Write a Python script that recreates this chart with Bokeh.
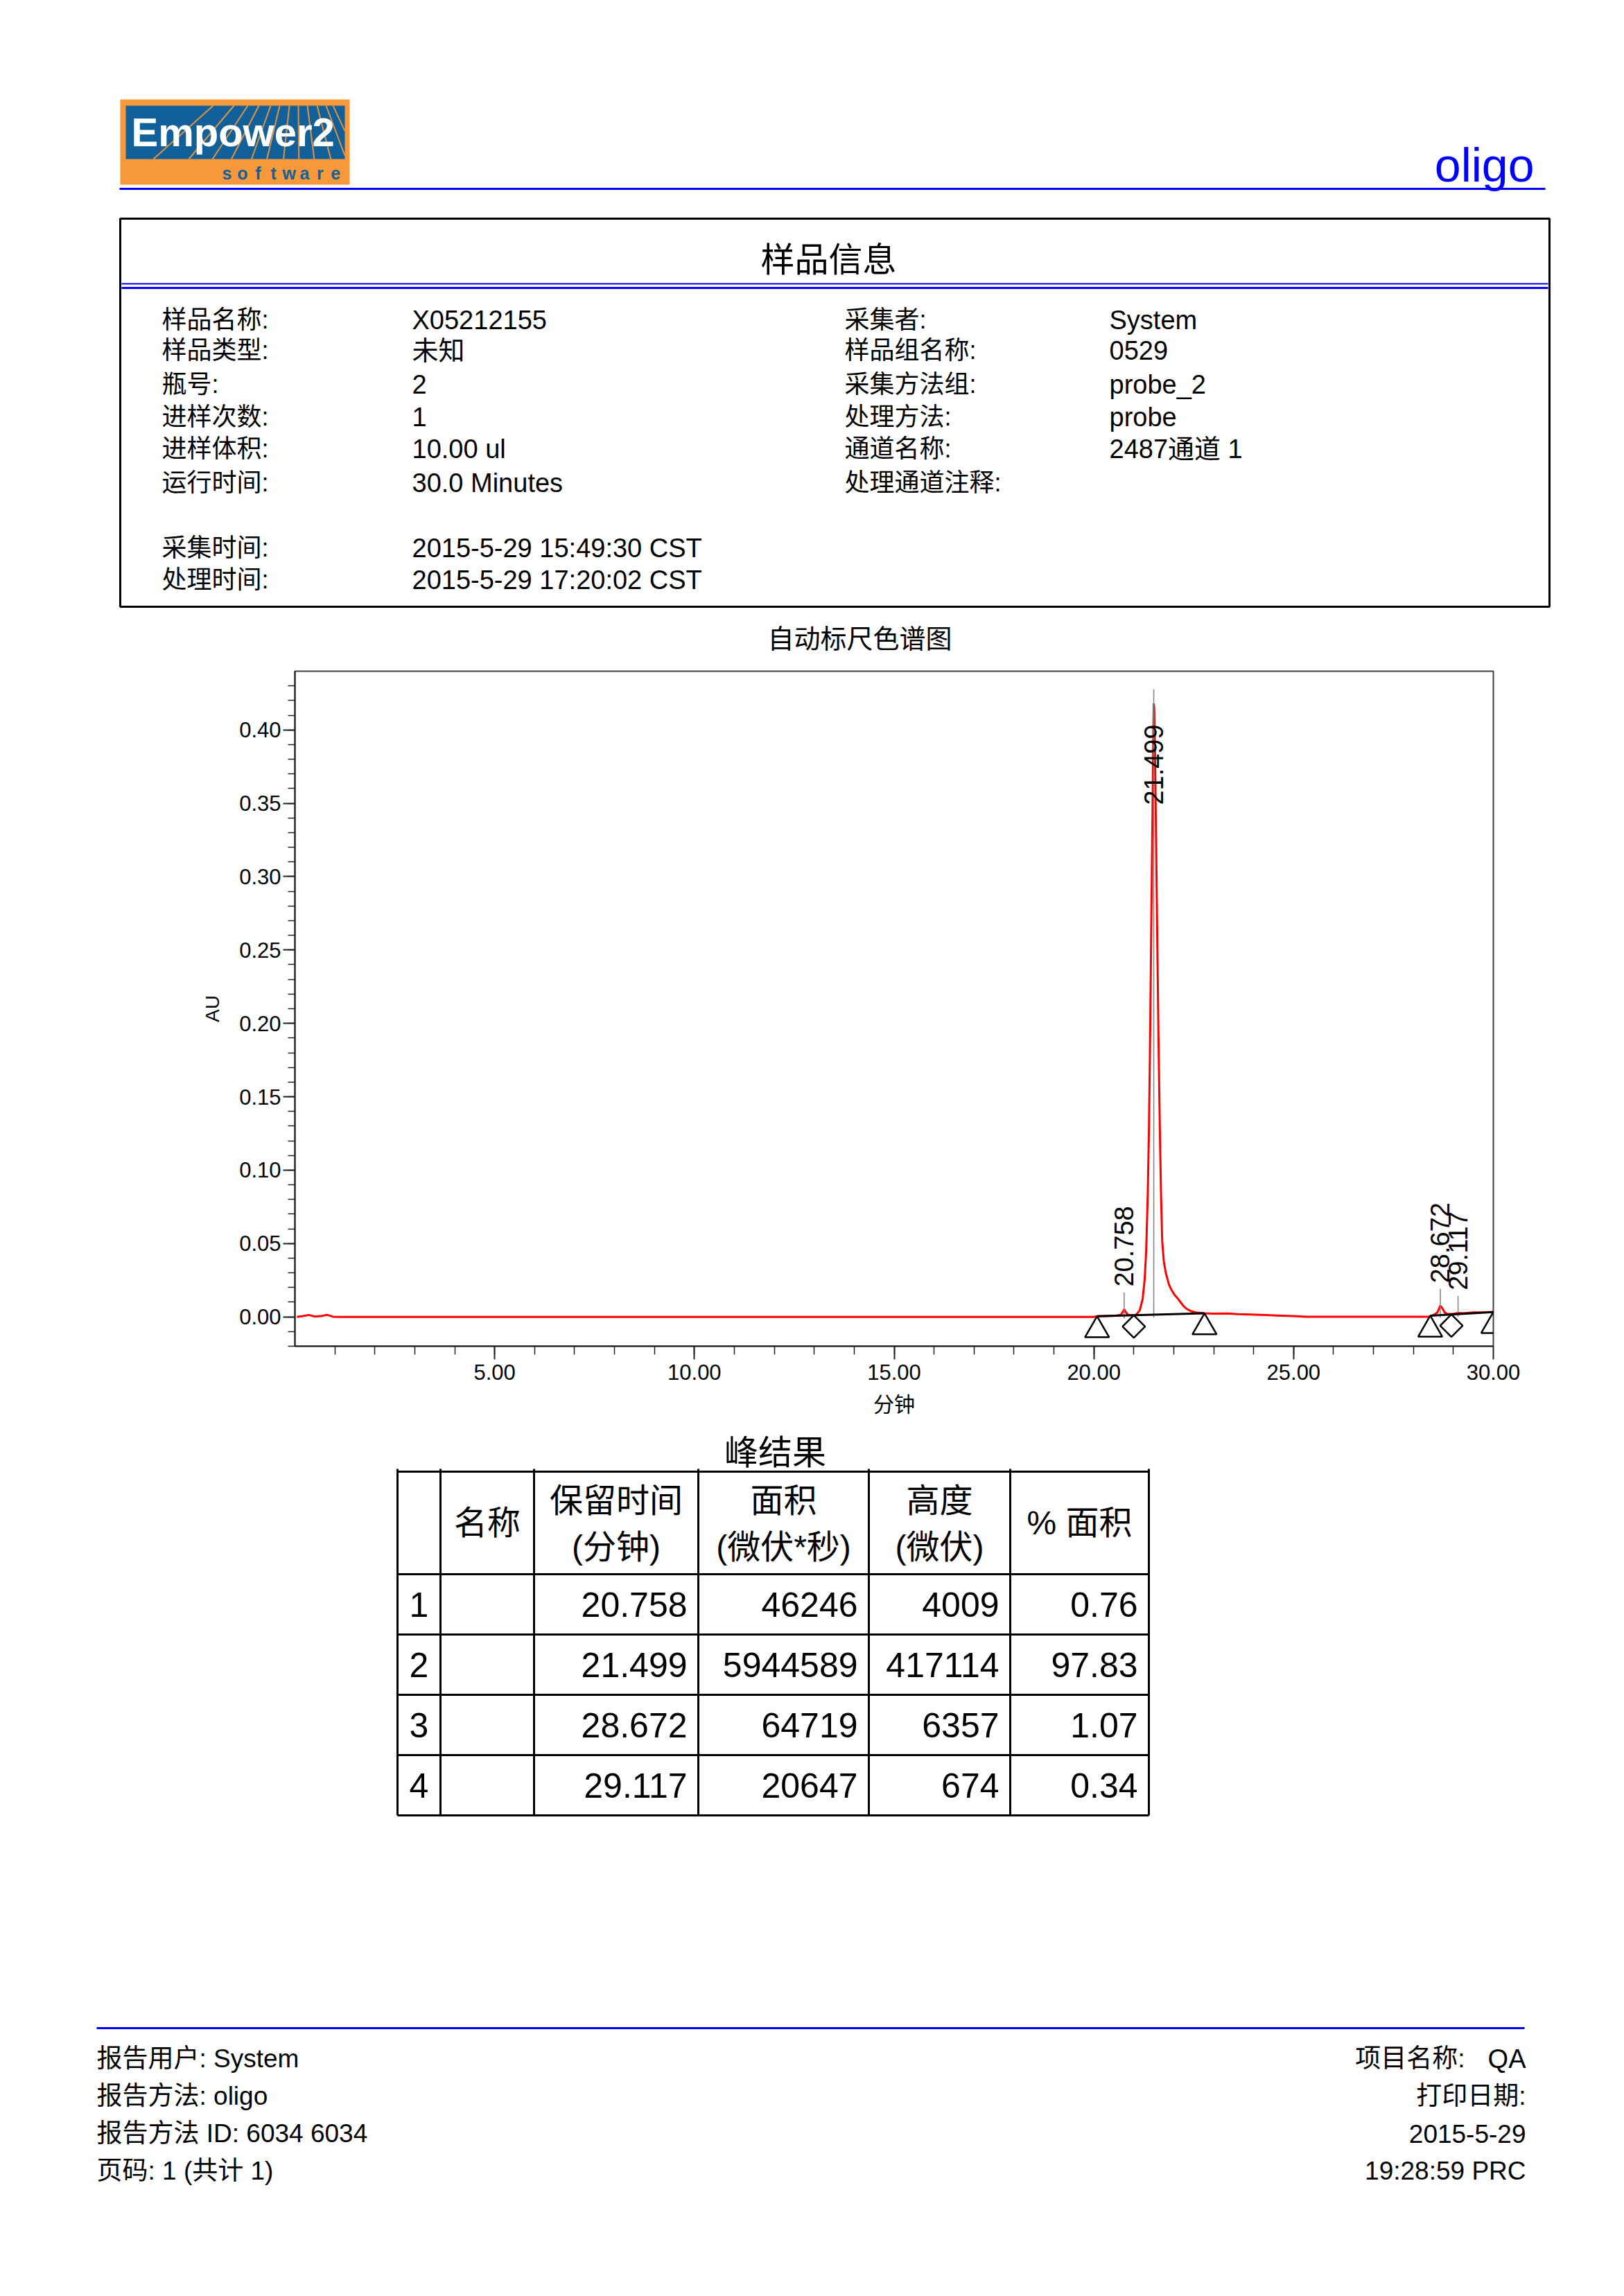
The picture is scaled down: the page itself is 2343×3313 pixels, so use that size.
import numpy as np
from bokeh.plotting import figure
from bokeh.models import Range1d, FixedTicker, PrintfTickFormatter
from bokeh.layouts import column
from bokeh.core.properties import value
from bokeh.embed import file_html
from bokeh.resources import INLINE

# ---------------- data ----------------
trace_t = [0.05, 0.20, 0.35, 0.50, 0.65, 0.80, 0.95, 1.10,
           20.00, 20.08, 20.30, 20.55, 20.68, 20.74, 20.76, 20.79, 20.85, 20.95,
           21.05, 21.15, 21.22, 21.27, 21.31, 21.35, 21.38, 21.41, 21.44, 21.47,
           21.49, 21.50, 21.51, 21.53, 21.56, 21.59, 21.62, 21.65, 21.68, 21.71,
           21.75, 21.80, 21.88, 21.95, 22.02, 22.10, 22.17, 22.24, 22.32, 22.42,
           22.55, 22.77, 23.00, 23.35, 23.60, 23.90, 24.30, 24.70, 25.00, 25.30,
           28.40, 28.52, 28.60, 28.67, 28.72, 28.78, 28.85, 29.00, 29.12, 29.25,
           29.50, 29.80, 30.00]
trace_au = [0.0000, 0.0005, 0.0013, 0.0002, 0.0005, 0.0014, 0.0001, 0.0000,
            0.0000, 0.0004, 0.0006, 0.0008, 0.0015, 0.0042, 0.0052, 0.0036, 0.0015, 0.0010,
            0.0012, 0.0045, 0.0120, 0.0250, 0.0450, 0.0850, 0.1300, 0.1950, 0.2750, 0.3500,
            0.4000, 0.4180, 0.4150, 0.3850, 0.3200, 0.2500, 0.1850, 0.1300, 0.0850, 0.0520,
            0.0380, 0.0300, 0.0220, 0.0180, 0.0150, 0.0125, 0.0100, 0.0075, 0.0055, 0.0040,
            0.0030, 0.0024, 0.0022, 0.0023, 0.0019, 0.0016, 0.0012, 0.0008, 0.0005, 0.0001,
            0.0001, 0.0015, 0.0030, 0.0076, 0.0060, 0.0030, 0.0020, 0.0021, 0.0027, 0.0024,
            0.0030, 0.0032, 0.0034]

peak_rt = [20.758, 21.499, 28.672, 29.117]
peak_area = [46246, 5944589, 64719, 20647]
peak_height = [4009, 417114, 6357, 674]
peak_pct = [0.76, 97.83, 1.07, 0.34]

bl_start_t = [20.08, 28.42]
bl_start_au = [0.0004, 0.0008]
bl_end_t = [22.77, 30.00]
bl_end_au = [0.0024, 0.0033]
drop_t = [21.00, 28.95]

x_ticks = [5, 10, 15, 20, 25, 30]
x_minor = list(range(1, 30))
y_ticks = [0.00, 0.05, 0.10, 0.15, 0.20, 0.25, 0.30, 0.35, 0.40]
y_minor = [round(i * 0.01, 2) for i in range(-2, 44)]

info_left_labels = ["样品名称:", "样品类型:", "瓶号:", "进样次数:", "进样体积:", "运行时间:", "采集时间:", "处理时间:"]
info_left_values = ["X05212155", "未知", "2", "1", "10.00 ul", "30.0 Minutes",
                    "2015-5-29 15:49:30 CST", "2015-5-29 17:20:02 CST"]
info_right_labels = ["采集者:", "样品组名称:", "采集方法组:", "处理方法:", "通道名称:", "处理通道注释:"]
info_right_values = ["System", "0529", "probe_2", "probe", "2487通道 1", ""]

table_head_1 = ["", "名称", "保留时间", "面积", "高度", "% 面积"]
table_head_2 = ["", "", "(分钟)", "(微伏*秒)", "(微伏)", ""]

footer_left = ["报告用户: System", "报告方法: oligo", "报告方法 ID: 6034 6034", "页码: 1 (共计 1)"]
footer_right = ["项目名称:", "打印日期:", "2015-5-29", "19:28:59 PRC"]
footer_project = "QA"

# ---------------- layout constants ----------------
W = 2343
TOP_H = 952
CH_TOP, CH_BOT = 952, 2060
BOT_TOP, PAGE_H = 2060, 3313
FR_L, FR_R, FR_T, FR_B = 425, 2154, 968, 1942
XMIN, XMAX = 0.0, 30.0
YMIN, YMAX = -0.02, 0.44
LAT = "Liberation Sans"
MIX = "Liberation Sans, Noto Sans CJK SC"


def deco(y0, h):
    p = figure(width=W, height=h, x_range=Range1d(0, W), y_range=Range1d(y0 + h, y0),
               output_backend="svg", toolbar_location=None, min_border=0,
               outline_line_color=None, x_axis_location=None, y_axis_location=None,
               frame_align=False)
    p.grid.visible = False
    p.background_fill_color = "white"
    p.border_fill_color = "white"
    return p


def txt(p, xs, ys, ss, size, align="left", baseline="middle", color="black",
        font=MIX, style="normal", angle=0.0):
    p.text(x=list(xs), y=list(ys), text=list(ss), text_font=value(font),
           text_font_size=f"{size}px", text_align=align, text_baseline=baseline,
           text_color=color, text_font_style=style, angle=angle)


# ---------------- top part ----------------
top = deco(0, TOP_H)
# logo
top.quad(left=[173], right=[504], top=[143], bottom=[266], fill_color="#F7993A", line_color=None)
top.quad(left=[181], right=[497], top=[152], bottom=[229], fill_color="#11609A", line_color=None)
fx, fy = 429.0, 43.0
ray_top_x = [307, 337, 357, 373, 390, 403, 417, 430, 443, 457, 470, 480]
rx0, ry0, rx1, ry1 = [], [], [], []
for xt in ray_top_x:
    slope = (xt - fx) / (152 - fy)
    xb = xt + slope * (229 - 152)
    yb = 229.0
    if xb < 181:
        yb = 152 + (181 - xt) / slope
        xb = 181
    if xb > 497:
        yb = 152 + (497 - xt) / slope
        xb = 497
    rx0.append(xt); ry0.append(152); rx1.append(xb); ry1.append(yb)
top.segment(x0=rx0, y0=ry0, x1=rx1, y1=ry1, line_color="#F7993A", line_width=2, line_alpha=0.9)
txt(top, [189], [190], ["Empower2"], 58, color="white", font=LAT, style="bold")
letters = list("software")
txt(top, [327 + i * 22.4 for i in range(len(letters))], [249] * len(letters), letters, 25,
    align="center", color="#11609A", font=LAT, style="bold")

txt(top, [2213], [237], ["oligo"], 68, align="right", color="#0000FF", font=LAT)
top.segment(x0=[172], y0=[272], x1=[2229], y1=[272], line_color="#0000FF", line_width=3)

# info box
top.quad(left=[173], right=[2235], top=[315], bottom=[875], fill_color=None, line_color="black", line_width=3)
top.segment(x0=[175, 175], y0=[409, 415], x1=[2233, 2233], y1=[409, 415],
            line_color="#0000FF", line_width=[2, 3])
txt(top, [1195], [374], ["样品信息"], 49, align="center")

row_y = [461, 505, 554, 601, 647, 696, 790, 836]
txt(top, [233] * len(info_left_labels), row_y, info_left_labels, 36)
txt(top, [594] * len(info_left_values), row_y, info_left_values, 38)
txt(top, [1218] * len(info_right_labels), row_y[:6], info_right_labels, 36)
txt(top, [1600] * len(info_right_values), row_y[:6], info_right_values, 38)

txt(top, [1240], [921], ["自动标尺色谱图"], 38, align="center")

# ---------------- chart ----------------
chart = figure(width=W, height=CH_BOT - CH_TOP,
               x_range=Range1d(XMIN, XMAX), y_range=Range1d(YMIN, YMAX),
               output_backend="svg", toolbar_location=None, frame_align=False,
               min_border_left=FR_L, min_border_right=W - FR_R,
               min_border_top=FR_T - CH_TOP, min_border_bottom=CH_BOT - FR_B)
chart.grid.visible = False
chart.outline_line_color = "#404040"
chart.outline_line_width = 2
chart.background_fill_color = "white"
chart.border_fill_color = "white"

xa = chart.xaxis[0]
xa.ticker = FixedTicker(ticks=x_ticks, minor_ticks=x_minor)
xa.formatter = PrintfTickFormatter(format="%.2f")
xa.major_tick_in = 0
xa.major_tick_out = 19
xa.minor_tick_in = 0
xa.minor_tick_out = 12
xa.major_label_standoff = 7
xa.axis_label = "分钟"
xa.axis_label_standoff = 16

ya = chart.yaxis[0]
ya.ticker = FixedTicker(ticks=y_ticks, minor_ticks=y_minor)
ya.formatter = PrintfTickFormatter(format="%.2f")
ya.major_tick_in = 0
ya.major_tick_out = 17
ya.minor_tick_in = 0
ya.minor_tick_out = 10
ya.major_label_standoff = 3
ya.axis_label = "AU"
ya.axis_label_standoff = 20

for ax in (xa, ya):
    ax.axis_line_color = "#222222"
    ax.axis_line_width = 2
    ax.major_tick_line_color = "#222222"
    ax.major_tick_line_width = 2
    ax.minor_tick_line_color = "#222222"
    ax.minor_tick_line_width = 1.5
    ax.major_label_text_font = LAT
    ax.major_label_text_font_size = "31px"
    ax.major_label_text_color = "black"
    ax.axis_label_text_font = MIX
    ax.axis_label_text_font_style = "normal"
    ax.axis_label_text_color = "black"
xa.axis_label_text_font_size = "30px"
ya.axis_label_text_font_size = "28px"

ppa = (FR_B - FR_T) / (YMAX - YMIN)  # pixels per AU


def bl_at(t):
    for t0, a0, t1, a1 in zip(bl_start_t, bl_start_au, bl_end_t, bl_end_au):
        if t0 <= t <= t1:
            return a0 + (a1 - a0) * (t - t0) / (t1 - t0)
    return 0.0


chart.line(trace_t, trace_au, line_color="#FF0000", line_width=3)

# peak stems and labels
apex = [float(np.interp(rt, trace_t, trace_au)) for rt in peak_rt]
stem_x = list(peak_rt)
stem_y0 = [bl_at(rt) - 0.002 for rt in peak_rt]
stem_y1 = [a + 0.0115 for a in apex]
chart.segment(x0=stem_x, y0=stem_y0, x1=stem_x, y1=stem_y1, line_color="#808080", line_width=1.5)

lbl_len = 118 / ppa
up_x, up_y, up_s, dn_x, dn_y, dn_s = [], [], [], [], [], []
for rt, a in zip(peak_rt, apex):
    s = a + 0.0155
    if s + lbl_len > YMAX:
        dn_x.append(rt); dn_y.append(a - 0.0125); dn_s.append(f"{rt:.3f}")
    else:
        up_x.append(rt); up_y.append(s); up_s.append(f"{rt:.3f}")
txt(chart, up_x, up_y, up_s, 38, align="left", font=LAT, angle=np.pi / 2)
txt(chart, dn_x, dn_y, dn_s, 38, align="right", font=LAT, angle=np.pi / 2)

# baselines and markers
chart.segment(x0=bl_start_t, y0=bl_start_au, x1=bl_end_t, y1=bl_end_au, line_color="black", line_width=3)
TRI = 35
tri_t = bl_start_t + bl_end_t
tri_au = [a - 0.577 * TRI / ppa for a in bl_start_au + bl_end_au]
chart.scatter(tri_t, tri_au, marker="triangle", size=TRI, fill_color=None, line_color="black", line_width=2.5)
DIA = 23
dia_au = [bl_at(t) - (DIA / 2) * 1.4142 / ppa for t in drop_t]
chart.scatter(drop_t, dia_au, marker="square", size=DIA, angle=np.pi / 4,
              fill_color=None, line_color="black", line_width=2.5)

# ---------------- bottom part ----------------
bot = deco(BOT_TOP, PAGE_H - BOT_TOP)
txt(bot, [1118], [2095], ["峰结果"], 49, align="center")

col_x = [573, 635, 770, 1007, 1253, 1457, 1657]
row_b = [2123, 2271, 2358, 2445, 2532, 2619]
bot.segment(x0=[col_x[0]] * len(row_b), y0=row_b, x1=[col_x[-1]] * len(row_b), y1=row_b,
            line_color="black", line_width=3)
bot.segment(x0=col_x, y0=[row_b[0] - 4] * len(col_x), x1=col_x, y1=[row_b[-1]] * len(col_x),
            line_color="black", line_width=3)

hc = (row_b[0] + row_b[1]) / 2
for i in range(1, 6):
    cx = (col_x[i] + col_x[i + 1]) / 2
    if table_head_2[i]:
        txt(bot, [cx, cx], [2165, 2232], [table_head_1[i], table_head_2[i]], 48, align="center")
    else:
        txt(bot, [cx], [hc], [table_head_1[i]], 48, align="center")

rcent = [(row_b[k] + row_b[k + 1]) / 2 for k in range(1, 5)]
txt(bot, [(col_x[0] + col_x[1]) / 2] * 4, rcent, [str(k + 1) for k in range(4)], 50, align="center", font=LAT)
pad = 16
txt(bot, [col_x[3] - pad] * 4, rcent, [f"{v:.3f}" for v in peak_rt], 50, align="right", font=LAT)
txt(bot, [col_x[4] - pad] * 4, rcent, [str(v) for v in peak_area], 50, align="right", font=LAT)
txt(bot, [col_x[5] - pad] * 4, rcent, [str(v) for v in peak_height], 50, align="right", font=LAT)
txt(bot, [col_x[6] - pad] * 4, rcent, [f"{v:.2f}" for v in peak_pct], 50, align="right", font=LAT)

# footer
bot.segment(x0=[139], y0=[2926], x1=[2199], y1=[2926], line_color="#0000FF", line_width=3)
fy_rows = [2970, 3024, 3078, 3132]
txt(bot, [139] * 4, fy_rows, footer_left, 37)
txt(bot, [2113, 2201, 2201, 2201], fy_rows, footer_right, 37, align="right")
txt(bot, [2201], [fy_rows[0]], [footer_project], 38, align="right", font=LAT)

layout = column(top, chart, bot, spacing=0)
open("out.html", "w").write(file_html(layout, INLINE, title="oligo"))
